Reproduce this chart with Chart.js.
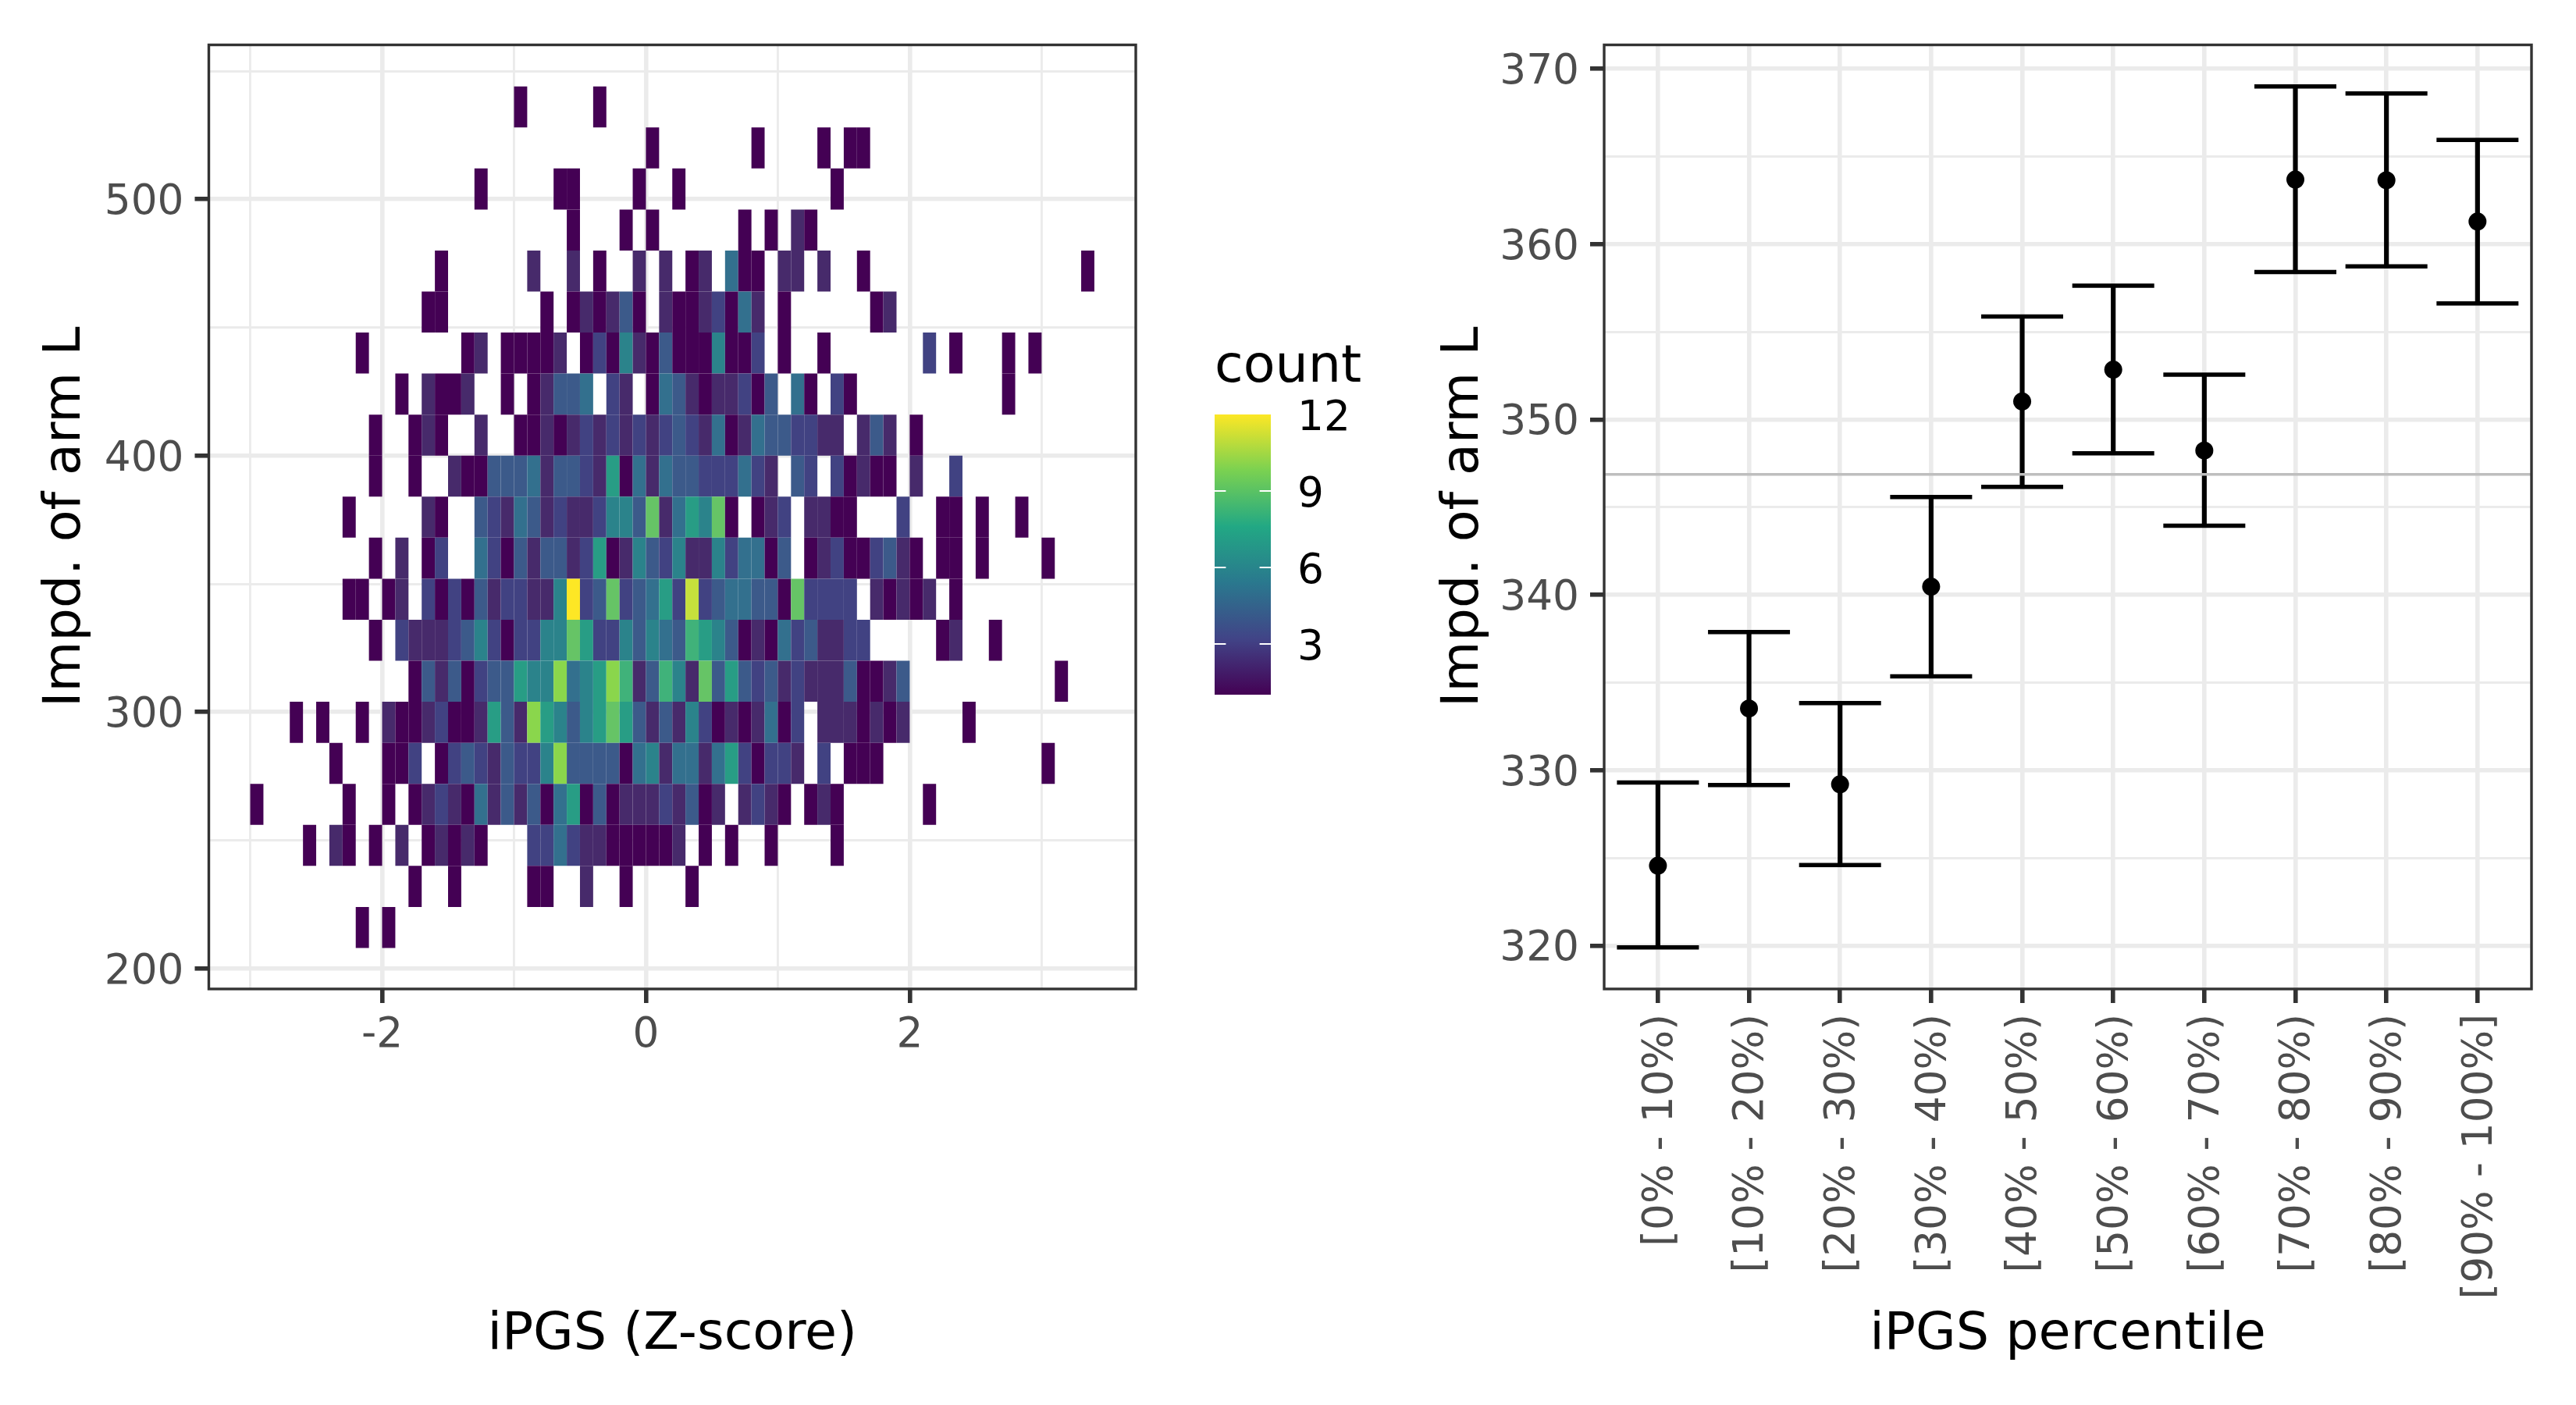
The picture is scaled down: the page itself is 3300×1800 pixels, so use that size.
<!DOCTYPE html>
<html>
<head>
<meta charset="utf-8">
<title>iPGS vs Impd. of arm L</title>
<script src="https://cdn.jsdelivr.net/npm/chart.js@4"></script>
<style>
  html, body { margin: 0; background: #fff; overflow: hidden; }
  canvas { position: absolute; }
</style>
</head>
<body>
<canvas id="heatChart" width="1500" height="1800" style="left:0;top:0"></canvas>
<canvas id="legendChart" width="300" height="536" style="left:1556px;top:420px"></canvas>
<canvas id="errorChart" width="1520" height="1800" style="left:1780px;top:0"></canvas>
<script>
// heatmap: top edge of each y bin, then [x bin index (x / 0.1), count] pairs per row
const yBinTops = [544, 528, 512, 496, 480, 464, 448, 432, 416, 400, 384, 368, 352, 336, 320, 304, 288, 272, 256, 240, 224];
const heatRows = [
  [[-10,1],[-4,1]],
  [[0,1],[8,1],[13,1],[15,1],[16,1]],
  [[-13,1],[-7,1],[-6,1],[-1,1],[2,1],[14,1]],
  [[-6,1],[-2,1],[0,1],[7,1],[9,1],[11,2],[12,1]],
  [[-16,1],[-9,2],[-6,2],[-4,1],[-1,2],[1,2],[3,1],[4,2],[6,5],[7,1],[8,1],[10,2],[11,2],[13,2],[16,1],[33,1]],
  [[-17,1],[-16,1],[-8,1],[-6,1],[-5,2],[-4,1],[-3,2],[-2,4],[-1,1],[1,2],[2,1],[3,1],[4,2],[5,3],[6,1],[7,5],[8,2],[10,1],[17,1],[18,2]],
  [[-22,1],[-14,1],[-13,2],[-11,1],[-10,1],[-9,1],[-8,1],[-7,2],[-5,1],[-4,3],[-3,1],[-2,6],[-1,2],[0,1],[1,4],[2,1],[3,1],[4,1],[5,6],[6,1],[7,1],[8,3],[10,1],[13,1],[21,3],[23,1],[27,1],[29,1]],
  [[-19,1],[-17,2],[-16,1],[-15,1],[-14,2],[-11,1],[-9,1],[-8,2],[-7,4],[-6,4],[-5,5],[-3,3],[-2,2],[0,1],[1,5],[2,4],[3,2],[4,1],[5,2],[6,2],[7,3],[8,1],[9,4],[11,5],[12,1],[14,3],[15,1],[27,1]],
  [[-21,1],[-18,1],[-17,2],[-16,1],[-13,2],[-10,1],[-9,1],[-8,2],[-7,1],[-6,2],[-5,3],[-4,2],[-3,3],[-2,2],[-1,3],[0,2],[1,3],[2,4],[3,3],[4,2],[5,5],[6,1],[7,2],[8,5],[9,4],[10,4],[11,3],[12,3],[13,2],[14,2],[16,2],[17,4],[18,2],[20,1]],
  [[-21,1],[-18,1],[-15,2],[-14,1],[-13,1],[-12,4],[-11,4],[-10,4],[-9,5],[-8,2],[-7,4],[-6,4],[-5,3],[-4,2],[-3,7],[-2,1],[-1,5],[0,2],[1,5],[2,4],[3,4],[4,3],[5,3],[6,3],[7,5],[8,3],[9,2],[11,4],[12,3],[14,3],[15,1],[16,2],[17,1],[18,1],[20,2],[23,3]],
  [[-23,1],[-17,2],[-16,1],[-13,4],[-12,3],[-11,2],[-10,5],[-9,4],[-8,2],[-7,3],[-6,2],[-5,2],[-4,3],[-3,6],[-2,6],[-1,4],[0,9],[1,2],[2,5],[3,7],[4,6],[5,9],[6,1],[8,1],[9,2],[10,3],[12,2],[13,2],[14,1],[15,1],[19,3],[22,1],[23,1],[25,1],[28,1]],
  [[-21,1],[-19,2],[-17,1],[-16,3],[-13,5],[-12,3],[-11,1],[-10,4],[-9,2],[-8,4],[-7,4],[-6,2],[-5,3],[-4,7],[-3,1],[-2,2],[-1,6],[0,4],[1,3],[2,6],[3,2],[4,2],[5,6],[6,3],[7,5],[8,5],[9,1],[10,4],[12,1],[13,2],[14,3],[15,1],[16,1],[17,3],[18,4],[19,2],[20,1],[22,1],[23,1],[25,1],[30,1]],
  [[-23,1],[-22,1],[-20,1],[-19,2],[-17,3],[-16,1],[-15,3],[-14,1],[-13,4],[-12,2],[-11,3],[-10,3],[-9,2],[-8,2],[-7,6],[-6,12],[-5,3],[-4,4],[-3,9],[-2,3],[-1,4],[0,5],[1,7],[2,3],[3,11],[4,3],[5,4],[6,5],[7,5],[8,4],[9,4],[10,1],[11,9],[12,3],[13,3],[14,3],[15,3],[17,2],[18,1],[19,2],[20,1],[21,2],[23,1]],
  [[-21,1],[-19,3],[-18,2],[-17,2],[-16,2],[-15,3],[-14,4],[-13,6],[-12,3],[-11,1],[-10,3],[-9,3],[-8,6],[-7,6],[-6,9],[-5,7],[-4,3],[-3,3],[-2,6],[-1,4],[0,6],[1,5],[2,4],[3,8],[4,7],[5,6],[6,4],[7,1],[8,2],[9,1],[10,5],[11,3],[12,4],[13,2],[14,2],[15,3],[16,3],[22,1],[23,2],[26,1]],
  [[-18,1],[-17,4],[-16,2],[-15,4],[-14,1],[-13,3],[-12,4],[-11,4],[-10,7],[-9,6],[-8,6],[-7,10],[-6,5],[-5,6],[-4,7],[-3,10],[-2,8],[-1,2],[0,4],[1,8],[2,6],[3,2],[4,9],[5,4],[6,7],[7,4],[8,3],[9,4],[10,2],[11,3],[12,2],[13,2],[14,2],[15,4],[16,1],[17,1],[18,2],[19,4],[31,1]],
  [[-27,1],[-25,1],[-22,1],[-20,2],[-19,1],[-18,1],[-17,2],[-16,3],[-15,1],[-14,1],[-13,2],[-12,7],[-11,4],[-10,2],[-9,10],[-8,7],[-7,6],[-6,4],[-5,6],[-4,7],[-3,9],[-2,7],[-1,4],[0,2],[1,4],[2,2],[3,6],[4,3],[5,1],[6,2],[7,1],[8,2],[9,5],[10,1],[11,3],[13,2],[14,2],[15,2],[16,1],[17,2],[18,1],[19,2],[24,1]],
  [[-24,1],[-20,1],[-19,1],[-18,3],[-16,1],[-15,3],[-14,4],[-13,3],[-12,2],[-11,4],[-10,3],[-9,3],[-8,6],[-7,10],[-6,4],[-5,4],[-4,4],[-3,4],[-2,1],[-1,5],[0,6],[1,2],[2,5],[3,5],[4,2],[5,5],[6,7],[7,3],[8,1],[9,3],[10,3],[11,2],[13,3],[15,1],[16,1],[17,1],[30,1]],
  [[-30,1],[-23,1],[-20,1],[-18,1],[-17,2],[-16,3],[-15,2],[-14,1],[-13,5],[-12,2],[-11,4],[-10,2],[-9,4],[-8,1],[-7,5],[-6,7],[-5,1],[-4,4],[-3,1],[-2,2],[-1,2],[0,2],[1,3],[2,2],[3,4],[4,1],[5,2],[7,2],[8,3],[9,2],[10,1],[12,1],[13,2],[14,1],[21,1]],
  [[-26,1],[-24,2],[-23,1],[-21,1],[-19,2],[-17,1],[-16,2],[-15,1],[-14,2],[-13,1],[-9,3],[-8,3],[-7,5],[-6,3],[-5,2],[-4,2],[-3,1],[-2,1],[-1,1],[0,1],[1,1],[2,2],[4,1],[6,1],[9,1],[14,1]],
  [[-18,1],[-15,1],[-9,1],[-8,1],[-5,2],[-2,1],[3,1]],
  [[-22,1],[-20,1]]
];
const yBinHeight = 16;
const xBinWidth = 0.1;

// fill per count, 1..12, as sampled from the tiles
const countColors = ['#440154', '#472A6B', '#414282', '#3C5A8A', '#33708E', '#2B838B', '#289D85', '#40B27A', '#66C466', '#8AD64C', '#C6E03C', '#FDE725'];

// colour bar
const legendStops = [1, 3.2, 5.4, 7.6, 9.8, 12];
const legendStopColors = ['#440154', '#414487', '#2A788E', '#22A884', '#7AD151', '#FDE725'];
const legendTicks = [3, 6, 9, 12];

// ticks
const heatXMajor = [-2, 0, 2];
const heatXMinor = [-3, -1, 1, 3];
const heatYMajor = [200, 300, 400, 500];
const heatYMinor = [250, 350, 450, 550];
const errYMajor = [320, 330, 340, 350, 360, 370];
const errYMinor = [325, 335, 345, 355, 365];

// error bar panel
const percentileBins = ['[0% - 10%)', '[10% - 20%)', '[20% - 30%)', '[30% - 40%)', '[40% - 50%)', '[50% - 60%)', '[60% - 70%)', '[70% - 80%)', '[80% - 90%)', '[90% - 100%]'];
const binMeans = [324.56, 333.52, 329.2, 340.47, 351.03, 352.84, 348.23, 363.68, 363.64, 361.29];
const binLower = [319.9, 329.16, 324.6, 335.36, 346.16, 348.07, 343.94, 358.41, 358.73, 356.62];
const binUpper = [329.3, 337.88, 333.83, 345.58, 355.87, 357.63, 352.56, 368.99, 368.59, 365.94];
const overallMean = 346.87;
const errXMin = -0.5906;
const errXMax = 9.593;

const GRID = '#EBEBEB';
const TICK = '#333333';
const LABEL = '#4D4D4D';
const TITLE_SIZE = 66.7;
const TICK_SIZE = 53.3;

Chart.defaults.font.family = '"DejaVu Sans"';
Chart.defaults.animation = false;
Chart.defaults.responsive = false;
Chart.defaults.devicePixelRatio = 1;
Chart.defaults.plugins.legend.display = false;
Chart.defaults.plugins.tooltip.enabled = false;

// theme_bw border around the panel, on top of everything
const panelBorder = {
  id: 'panelBorder',
  afterDraw(chart) {
    const { left, top, width, height } = chart.chartArea;
    const ctx = chart.ctx;
    ctx.save();
    ctx.strokeStyle = TICK;
    ctx.lineWidth = 3.4;
    ctx.strokeRect(left, top, width, height);
    ctx.restore();
  }
};

// builds a linear axis with ggplot style major / minor grid lines
function ggAxis(major, minor, extra) {
  const isMajor = ctx => major.includes(ctx.tick.value);
  return Object.assign({
    type: 'linear',
    offset: false,
    beginAtZero: false,
    border: { display: false },
    grid: {
      offset: false,
      color: GRID,
      lineWidth: ctx => isMajor(ctx) ? 5.6 : 2.9,
      tickColor: ctx => isMajor(ctx) ? TICK : 'rgba(0,0,0,0)',
      tickWidth: 5.6,
      tickLength: 18
    },
    afterBuildTicks(scale) {
      scale.ticks = major.concat(minor).sort((a, b) => a - b).map(value => ({ value }));
    }
  }, extra);
}

function tickOptions(major, extra) {
  return Object.assign({
    color: LABEL,
    font: { size: TICK_SIZE },
    autoSkip: false,
    maxRotation: 0,
    minRotation: 0,
    padding: 14,
    callback: value => major.includes(value) ? String(value) : ''
  }, extra);
}

function axisTitle(text, padding) {
  return { display: true, text, color: '#000', font: { size: TITLE_SIZE }, padding };
}

// heatmap panel
const heatCells = [];
const heatFills = [];
heatRows.forEach((row, i) => {
  row.forEach(([bin, count]) => {
    heatCells.push({
      x: (bin + 0.5) * xBinWidth,
      y: [yBinTops[i] - yBinHeight, yBinTops[i]]
    });
    heatFills.push(countColors[count - 1]);
  });
});

new Chart(document.getElementById('heatChart'), {
  type: 'bar',
  data: {
    datasets: [{
      data: heatCells,
      backgroundColor: heatFills,
      borderWidth: 0,
      inflateAmount: 0,
      categoryPercentage: 1,
      barPercentage: 1,
      grouped: false
    }]
  },
  options: {
    layout: { autoPadding: false, padding: { top: 57.5, right: 45, bottom: 0, left: 0 } },
    scales: {
      x: ggAxis(heatXMajor, heatXMinor, {
        min: -3.314,
        max: 3.714,
        ticks: tickOptions(heatXMajor, { padding: 10 }),
        title: axisTitle('iPGS (Z-score)', { top: 0, bottom: 49 }),
        afterFit(scale) { scale.height = 533; }
      }),
      y: ggAxis(heatYMajor, heatYMinor, {
        min: 192,
        max: 560.2,
        ticks: tickOptions(heatYMajor, { labelOffset: 5 }),
        title: axisTitle('Impd. of arm L', { top: 44.5, bottom: 0 }),
        afterFit(scale) { scale.width = 267.5; }
      })
    }
  },
  plugins: [panelBorder]
});

// colour bar, drawn as one floating bar on its own count scale
new Chart(document.getElementById('legendChart'), {
  type: 'bar',
  data: {
    labels: ['count'],
    datasets: [{
      data: [[legendStops[0], legendStops[legendStops.length - 1]]],
      borderWidth: 0,
      inflateAmount: 0,
      categoryPercentage: 1,
      barPercentage: 1,
      backgroundColor(ctx) {
        const { chart } = ctx;
        const yScale = chart.scales.y;
        if (!chart.chartArea || !yScale) return legendStopColors[0];
        const first = yScale.getPixelForValue(legendStops[0]);
        const last = yScale.getPixelForValue(legendStops[legendStops.length - 1]);
        const gradient = chart.ctx.createLinearGradient(0, first, 0, last);
        legendStops.forEach((stop, i) => {
          gradient.addColorStop((stop - legendStops[0]) / (legendStops[legendStops.length - 1] - legendStops[0]), legendStopColors[i]);
        });
        return gradient;
      }
    }]
  },
  options: {
    layout: { autoPadding: false, padding: { top: 0, right: 0, bottom: 10, left: 0 } },
    plugins: {
      title: {
        display: true,
        text: 'count',
        align: 'start',
        color: '#000',
        font: { size: TITLE_SIZE, weight: 'normal' },
        padding: { top: 12, bottom: 19 }
      }
    },
    scales: {
      x: { display: false },
      y: {
        position: 'right',
        min: 1,
        max: 12,
        beginAtZero: false,
        border: { display: false, dash: [14.4, 43.2, 14.4] },
        grid: {
          z: 1,
          drawTicks: false,
          lineWidth: 2,
          color: ctx => ctx.tick.value === 12 ? 'rgba(0,0,0,0)' : '#fff'
        },
        ticks: { color: '#000', font: { size: TICK_SIZE }, padding: 34, labelOffset: 6, autoSkip: false },
        afterBuildTicks(scale) {
          scale.ticks = legendTicks.map(value => ({ value }));
        },
        afterFit(scale) { scale.width = 228; }
      }
    }
  }
});

// error bar panel: stems are floating bars, caps are line shaped points
const binIndex = percentileBins.map((label, i) => i);
new Chart(document.getElementById('errorChart'), {
  type: 'bar',
  data: {
    datasets: [
      {
        type: 'line',
        order: 0,
        data: [{ x: errXMin, y: overallMean }, { x: errXMax, y: overallMean }],
        borderColor: '#BEBEBE',
        borderWidth: 3.4,
        pointRadius: 0
      },
      {
        type: 'line',
        order: 1,
        data: binIndex.map(i => ({ x: i, y: binMeans[i] })),
        showLine: false,
        pointStyle: 'circle',
        pointRadius: 11.5,
        pointBorderWidth: 0,
        pointBackgroundColor: '#000'
      },
      {
        type: 'line',
        order: 2,
        data: binIndex.map(i => ({ x: i, y: binUpper[i] })),
        showLine: false,
        pointStyle: 'line',
        pointRadius: 52.5,
        pointBorderWidth: 5.5,
        pointBorderColor: '#000'
      },
      {
        type: 'line',
        order: 2,
        data: binIndex.map(i => ({ x: i, y: binLower[i] })),
        showLine: false,
        pointStyle: 'line',
        pointRadius: 52.5,
        pointBorderWidth: 5.5,
        pointBorderColor: '#000'
      },
      {
        type: 'bar',
        order: 3,
        data: binIndex.map(i => ({ x: i, y: [binLower[i], binUpper[i]] })),
        backgroundColor: '#000',
        borderWidth: 0,
        barThickness: 5.5,
        grouped: false
      }
    ]
  },
  options: {
    layout: { autoPadding: false, padding: { top: 57.5, right: 57, bottom: 0, left: 0 } },
    scales: {
      x: ggAxis(binIndex, [], {
        min: errXMin,
        max: errXMax,
        ticks: tickOptions(binIndex, {
          maxRotation: 90,
          minRotation: 90,
          padding: 14,
          labelOffset: 4,
          callback: value => percentileBins[value]
        }),
        title: axisTitle('iPGS percentile', { top: 0, bottom: 49 }),
        afterFit(scale) { scale.height = 533; }
      }),
      y: ggAxis(errYMajor, errYMinor, {
        min: 317.53,
        max: 371.36,
        ticks: tickOptions(errYMajor, { labelOffset: 5 }),
        title: axisTitle('Impd. of arm L', { top: 56, bottom: 0 }),
        afterFit(scale) { scale.width = 275; }
      })
    }
  },
  plugins: [panelBorder]
});
</script>
</body>
</html>
